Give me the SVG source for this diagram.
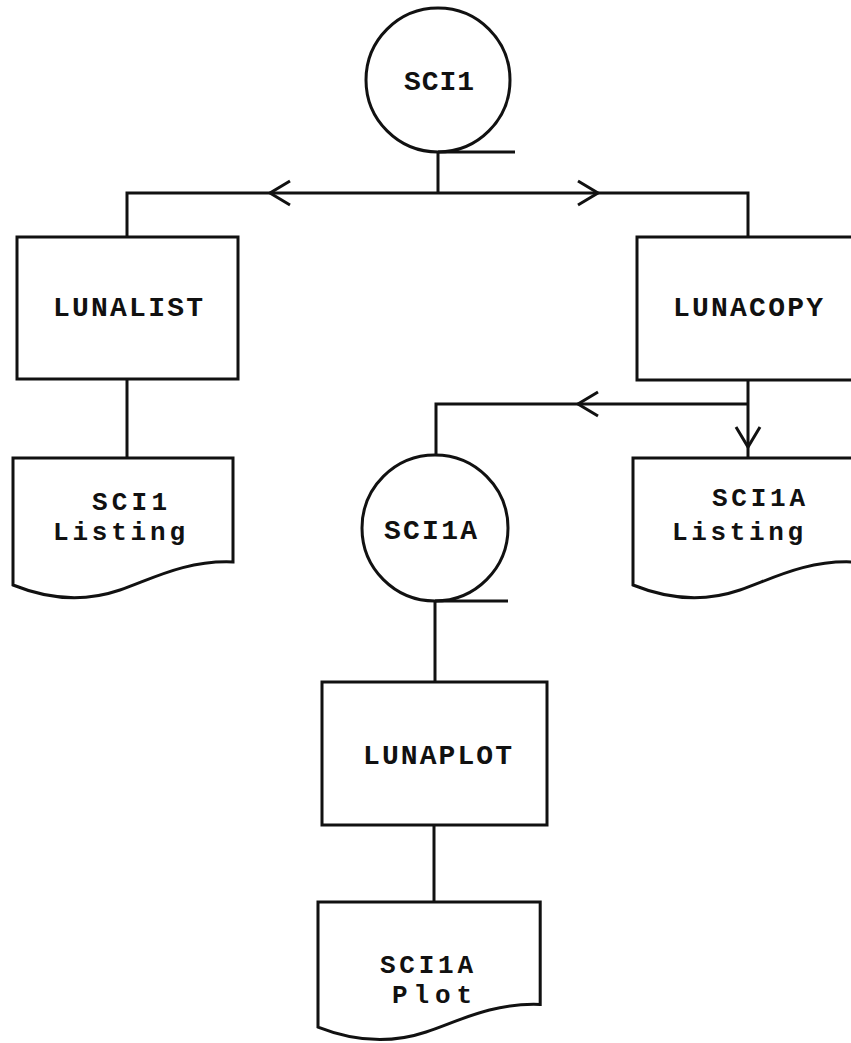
<svg xmlns="http://www.w3.org/2000/svg" width="851" height="1043" viewBox="0 0 851 1043">
  <style>
    .shape { fill: #fff; stroke: #111; stroke-width: 3; }
    .wire { fill: none; stroke: #111; stroke-width: 3; }
    .lbl { font-family: "Liberation Mono", "DejaVu Sans Mono", monospace; font-weight: bold; font-size: 28px; fill: #111; }
    .lbl2 { font-family: "Liberation Mono", "DejaVu Sans Mono", monospace; font-weight: bold; font-size: 26px; fill: #111; }
  </style>
  <defs>
    <!-- open V arrowhead -->
    <marker id="arrow" markerUnits="userSpaceOnUse" viewBox="-23 -15 26 30" refX="0" refY="0" markerWidth="26" markerHeight="30" orient="auto">
      <path d="M-20,-12 L0,0 L-20,12" fill="none" stroke="#111" stroke-width="3"/>
    </marker>
    <!-- printed-output (document) outline, origin at top-left corner -->
    <path id="doc" d="M0,0 H220 V104 C172,102 137,122 107,132 C72,144 37,142 0,127 Z"/>
  </defs>

  <!-- connectors -->
  <g id="connectors">
    <path class="wire" d="M438,152 V193"/>
    <path class="wire" d="M438,193 H270" marker-end="url(#arrow)"/>
    <path class="wire" d="M270,193 H127 V237"/>
    <path class="wire" d="M438,193 H598" marker-end="url(#arrow)"/>
    <path class="wire" d="M598,193 H748 V237"/>
    <path class="wire" d="M127,379 V458"/>
    <path class="wire" d="M748,380 V447" marker-end="url(#arrow)"/>
    <path class="wire" d="M748,447 V458"/>
    <path class="wire" d="M748,404 H578" marker-end="url(#arrow)"/>
    <path class="wire" d="M578,404 H436 V455"/>
    <path class="wire" d="M435,601 V682"/>
    <path class="wire" d="M434,825 V902"/>
  </g>

  <!-- magnetic tape SCI1 -->
  <g id="sci1">
    <circle class="shape" cx="438" cy="80" r="72"/>
    <path class="wire" d="M438,152 H515"/>
    <text class="lbl" x="404" y="90" textLength="70" lengthAdjust="spacing">SCI1</text>
  </g>

  <!-- LUNALIST program -->
  <g id="lunalist">
    <rect class="shape" x="17" y="237" width="221" height="142"/>
    <text class="lbl" x="53" y="316" textLength="150" lengthAdjust="spacing">LUNALIST</text>
  </g>

  <!-- LUNACOPY program -->
  <g id="lunacopy">
    <rect class="shape" x="637" y="237" width="230" height="143"/>
    <text class="lbl" x="673" y="316" textLength="150" lengthAdjust="spacing">LUNACOPY</text>
  </g>

  <!-- SCI1 listing -->
  <g id="sci1-listing">
    <use href="#doc" class="shape" transform="translate(13,458)"/>
    <text class="lbl2" x="92" y="510" textLength="75" lengthAdjust="spacing">SCI1</text>
    <text class="lbl2" x="53" y="540" textLength="132" lengthAdjust="spacing">Listing</text>
  </g>

  <!-- SCI1A listing -->
  <g id="sci1a-listing">
    <use href="#doc" class="shape" transform="translate(633,458)"/>
    <text class="lbl2" x="712" y="506" textLength="93" lengthAdjust="spacing">SCI1A</text>
    <text class="lbl2" x="672" y="540" textLength="131" lengthAdjust="spacing">Listing</text>
  </g>

  <!-- magnetic tape SCI1A -->
  <g id="sci1a">
    <circle class="shape" cx="435" cy="528" r="73"/>
    <path class="wire" d="M435,601 H508"/>
    <text class="lbl" x="384" y="539" textLength="93" lengthAdjust="spacing">SCI1A</text>
  </g>

  <!-- LUNAPLOT program -->
  <g id="lunaplot">
    <rect class="shape" x="322" y="682" width="225" height="143"/>
    <text class="lbl" x="363" y="764" textLength="149" lengthAdjust="spacing">LUNAPLOT</text>
  </g>

  <!-- SCI1A plot -->
  <g id="sci1a-plot">
    <use href="#doc" class="shape" transform="translate(318,902) scale(1.01,0.985)"/>
    <text class="lbl2" x="380" y="973" textLength="93" lengthAdjust="spacing">SCI1A</text>
    <text class="lbl2" x="392" y="1003" textLength="80" lengthAdjust="spacing">Plot</text>
  </g>
</svg>
